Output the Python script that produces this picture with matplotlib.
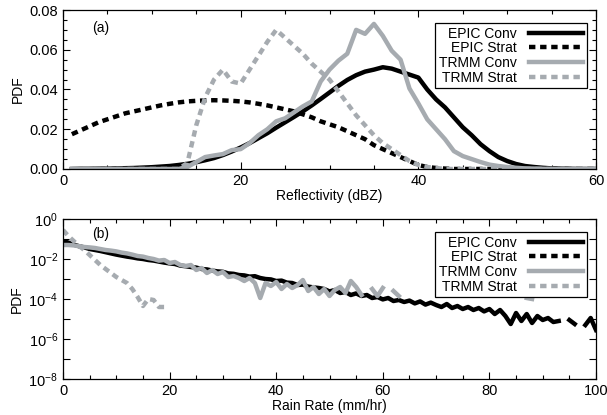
import numpy as np
import matplotlib
matplotlib.use("Agg")
import matplotlib.pyplot as plt
from matplotlib.ticker import FixedLocator, MultipleLocator, FuncFormatter

plt.rcParams['font.family'] = ['Liberation Sans', 'DejaVu Sans']
plt.rcParams['mathtext.fontset'] = 'custom'
plt.rcParams['mathtext.rm'] = 'Liberation Sans'
plt.rcParams['mathtext.default'] = 'regular'
plt.rcParams['lines.scale_dashes'] = False

# ---- (a) reflectivity PDFs, 1 dBZ bins ----
dbz = np.arange(1, 61)

epic_conv_a = [0.0000, 0.0001, 0.0001, 0.0002, 0.0002, 0.0003, 0.0004, 0.0005, 0.0007, 0.0009,
               0.0012, 0.0015, 0.0020, 0.0026, 0.0034, 0.0044, 0.0055, 0.0070, 0.0088, 0.0108,
               0.0130, 0.0155, 0.0180, 0.0208, 0.0235, 0.0262, 0.0290, 0.0320, 0.0352, 0.0385,
               0.0418, 0.0448, 0.0472, 0.0490, 0.0500, 0.0512, 0.0505, 0.0490, 0.0475, 0.0460,
               0.0400, 0.0350, 0.0310, 0.0260, 0.0210, 0.0170, 0.0125, 0.0090, 0.0060, 0.0040,
               0.0025, 0.0015, 0.0010, 0.0006, 0.0003, 0.0002, 0.0001, 0.0000, 0.0000, 0.0000]

epic_strat_a = [0.0175, 0.0195, 0.0215, 0.0235, 0.0250, 0.0265, 0.0280, 0.0290, 0.0300, 0.0310,
                0.0320, 0.0328, 0.0335, 0.0340, 0.0343, 0.0345, 0.0346, 0.0345, 0.0343, 0.0340,
                0.0335, 0.0328, 0.0320, 0.0310, 0.0300, 0.0290, 0.0275, 0.0260, 0.0240, 0.0225,
                0.0210, 0.0190, 0.0170, 0.0150, 0.0120, 0.0100, 0.0080, 0.0060, 0.0040, 0.0020,
                0.0010, 0.0005, 0.0002, 0.0000, 0.0000, 0.0000, 0.0000, 0.0000, 0.0000, 0.0000,
                0.0000, 0.0000, 0.0000, 0.0000, 0.0000, 0.0000, 0.0000, 0.0000, 0.0000, 0.0000]

trmm_conv_a = [0.0000, 0.0000, 0.0000, 0.0000, 0.0000, 0.0000, 0.0000, 0.0000, 0.0000, 0.0000,
               0.0000, 0.0000, 0.0000, 0.0010, 0.0035, 0.0060, 0.0068, 0.0075, 0.0095, 0.0100,
               0.0130, 0.0170, 0.0200, 0.0240, 0.0255, 0.0285, 0.0315, 0.0340, 0.0440, 0.0500,
               0.0545, 0.0580, 0.0700, 0.0680, 0.0730, 0.0670, 0.0595, 0.0550, 0.0405, 0.0330,
               0.0250, 0.0200, 0.0150, 0.0090, 0.0065, 0.0050, 0.0035, 0.0022, 0.0015, 0.0010,
               0.0006, 0.0003, 0.0002, 0.0001, 0.0000, 0.0000, 0.0000, 0.0000, 0.0000, 0.0000]

trmm_strat_a = [0.0000, 0.0000, 0.0000, 0.0000, 0.0000, 0.0000, 0.0000, 0.0000, 0.0000, 0.0000,
                0.0000, 0.0000, 0.0000, 0.0030, 0.0220, 0.0360, 0.0450, 0.0500, 0.0440, 0.0430,
                0.0500, 0.0570, 0.0640, 0.0700, 0.0660, 0.0620, 0.0580, 0.0530, 0.0490, 0.0450,
                0.0390, 0.0330, 0.0270, 0.0220, 0.0170, 0.0130, 0.0100, 0.0070, 0.0040, 0.0020,
                0.0010, 0.0005, 0.0000, 0.0000, 0.0000, 0.0000, 0.0000, 0.0000, 0.0000, 0.0000,
                0.0000, 0.0000, 0.0000, 0.0000, 0.0000, 0.0000, 0.0000, 0.0000, 0.0000, 0.0000]

# ---- (b) rain rate PDFs (log10 of PDF), 1 mm/hr bins; nan = empty bin ----
nan = np.nan
rr_epic = np.arange(0, 101)
epic_conv_b_log = [-1.10, -1.18, -1.28, -1.36, -1.42, -1.50, -1.55, -1.60, -1.66, -1.72,
                   -1.78, -1.83, -1.88, -1.92, -1.97, -2.00, -2.05, -2.08, -2.13, -2.18,
                   -2.22, -2.25, -2.33, -2.36, -2.40, -2.43, -2.50, -2.52, -2.58, -2.62,
                   -2.64, -2.72, -2.74, -2.80, -2.82, -2.88, -2.86, -2.95, -3.00, -3.02,
                   -3.10, -3.08, -3.18, -3.20, -3.30, -3.28, -3.38, -3.42, -3.45, -3.50,
                   -3.62, -3.55, -3.70, -3.65, -3.80, -3.72, -3.85, -3.80, -3.95, -3.90,
                   -4.02, -3.95, -4.10, -4.05, -4.15, -4.08, -4.22, -4.12, -4.28, -4.18,
                   -4.30, -4.40, -4.25, -4.45, -4.35, -4.50, -4.40, -4.55, -4.45, -4.62,
                   -4.50, -4.75, -4.55, -4.85, -5.25, -4.70, -5.10, -4.75, -5.20, -4.85,
                   -5.05, -4.95, -5.15, -5.10, nan, -5.05, -5.25, nan, -5.30, -4.95,
                   -5.55]

rr_trmm_conv = np.arange(0, 89)
trmm_conv_b_log = [-1.30, -1.30, -1.32, -1.36, -1.40, -1.42, -1.45, -1.50, -1.55, -1.58,
                   -1.62, -1.68, -1.72, -1.78, -1.85, -1.88, -1.95, -2.00, -2.08, -2.05,
                   -2.20, -2.15, -2.30, -2.35, -2.30, -2.55, -2.45, -2.70, -2.55, -2.75,
                   -2.65, -2.90, -2.85, -2.95, -3.10, -2.95, -3.20, -3.95, -3.20, -3.35,
                   -3.15, -3.50, -3.25, -3.45, -3.30, -3.05, -3.60, -3.40, -3.75, -3.50,
                   -3.85, -3.55, -3.40, -3.70, -3.10, -3.40, -3.80, nan, -3.50, -3.85,
                   -3.45, nan, -3.60, -3.85, nan, nan, -3.70, nan, -3.75, nan,
                   nan, -3.70, -3.60, nan, -3.65, nan, nan, -3.75, nan, -3.70,
                   nan, nan, -3.80, nan, nan, -3.70, nan, -3.95, -4.00]

rr_trmm_strat = np.arange(0, 20)
trmm_strat_b_log = [-0.55, -0.85, -1.10, -1.35, -1.55, -1.80, -2.05, -2.30, -2.50, -2.70,
                    -2.90, -3.05, -3.20, -3.50, -3.90, -4.35, -4.00, -4.05, -4.40, -4.40]

labels = ["EPIC Conv", "EPIC Strat", "TRMM Conv", "TRMM Strat"]
gray = "#a6abb0"
lw = 3.2
dash = (4.6, 3.4)
fs_tick = 10.5
fs_lab = 10

fig = plt.figure(figsize=(6.07, 4.15), dpi=100)
ax1 = fig.add_axes([0.1038, 0.5928, 0.8781, 0.3831])
ax2 = fig.add_axes([0.1038, 0.0867, 0.8781, 0.3856])

# (a)
ax1.plot(dbz, epic_conv_a, color="black", lw=lw, label=labels[0])
ax1.plot(dbz, epic_strat_a, color="black", lw=lw, ls=(0, dash), label=labels[1])
ax1.plot(dbz, trmm_conv_a, color=gray, lw=lw, label=labels[2])
ax1.plot(dbz, trmm_strat_a, color=gray, lw=lw, ls=(0, dash), label=labels[3])
ax1.set_xlim(0, 60)
ax1.set_ylim(0, 0.08)
ax1.xaxis.set_major_locator(MultipleLocator(20))
ax1.xaxis.set_minor_locator(MultipleLocator(5))
ax1.yaxis.set_major_locator(MultipleLocator(0.02))
ax1.yaxis.set_minor_locator(MultipleLocator(0.005))
ax1.yaxis.set_major_formatter(FuncFormatter(lambda v, p: "%.2f" % v))
ax1.set_xlabel("Reflectivity (dBZ)", fontsize=fs_lab, labelpad=1)
ax1.set_ylabel("PDF", fontsize=fs_lab, labelpad=3)
ax1.text(0.054, 0.887, "(a)", transform=ax1.transAxes, fontsize=fs_lab, va="center")

# (b)
ax2.plot(rr_epic, 10.0 ** np.array(epic_conv_b_log), color="black", lw=lw, label=labels[0])
ax2.plot([], [], color="black", lw=lw, ls=(0, dash), label=labels[1])
ax2.plot(rr_trmm_conv, 10.0 ** np.array(trmm_conv_b_log), color=gray, lw=lw, label=labels[2])
ax2.plot(rr_trmm_strat, 10.0 ** np.array(trmm_strat_b_log), color=gray, lw=lw,
         ls=(0, dash), label=labels[3])
ax2.set_yscale("log")
ax2.set_xlim(0, 100)
ax2.set_ylim(1e-8, 1)
ax2.xaxis.set_major_locator(MultipleLocator(20))
ax2.xaxis.set_minor_locator(MultipleLocator(5))
ax2.yaxis.set_major_locator(FixedLocator([10.0 ** e for e in range(-8, 1)]))
ax2.yaxis.set_minor_locator(FixedLocator([]))


def log_label(v, p):
    e = int(round(np.log10(v)))
    if e % 2:
        return ""
    return r"$10^{%d}$" % e


ax2.yaxis.set_major_formatter(FuncFormatter(log_label))
ax2.set_xlabel("Rain Rate (mm/hr)", fontsize=fs_lab, labelpad=1)
ax2.set_ylabel("PDF", fontsize=fs_lab, labelpad=3)
ax2.text(0.054, 0.906, "(b)", transform=ax2.transAxes, fontsize=fs_lab, va="center")

for ax in (ax1, ax2):
    ax.tick_params(which="both", direction="in", top=True, right=True, labelsize=fs_tick, width=0.8)
    ax.tick_params(which="major", length=5)
    ax.tick_params(which="minor", length=3)
    for s in ax.spines.values():
        s.set_linewidth(0.9)
    leg = ax.legend(loc="upper right", bbox_to_anchor=(0.983, 0.918), borderaxespad=0,
                    fontsize=fs_lab, markerfirst=False, handlelength=3.9, handletextpad=0.9,
                    labelspacing=0.05, borderpad=0.25, fancybox=False, framealpha=1)
    leg.get_frame().set_edgecolor("black")
    leg.get_frame().set_linewidth(0.9)
    for t in leg.get_texts():
        t.set_ha("right")

fig.savefig("out.png", dpi=100)
